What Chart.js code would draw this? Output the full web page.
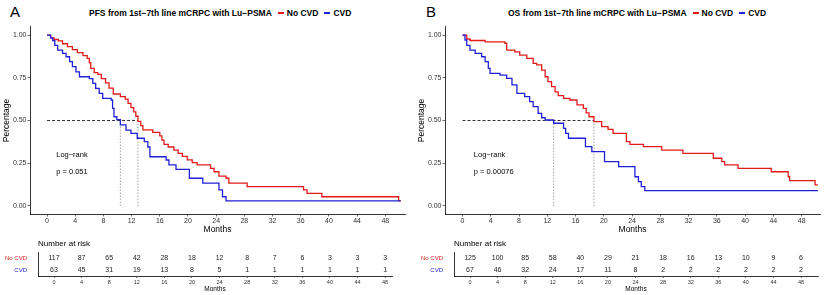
<!DOCTYPE html>
<html>
<head>
<meta charset="utf-8">
<script src="https://cdn.jsdelivr.net/npm/chart.js"></script>
<style>
  html, body { margin: 0; padding: 0; background: #fff; }
  body { width: 825px; height: 295px; position: relative; overflow: hidden;
         font-family: "Liberation Sans", Arial, sans-serif; color: #000; }
  canvas { position: absolute; }
  .tag { position: absolute; top: 3px; font-size: 15px; line-height: 17px; }
  .head { position: absolute; top: 8px; font-size: 8.5px; line-height: 10px; font-weight: bold;
          white-space: nowrap; display: flex; align-items: center; }
  .key { display: inline-block; width: 6px; height: 1.4px; margin: 0 3px 0 6px; }
  .risk-title { position: absolute; top: 239px; font-size: 8px; line-height: 10px; }
</style>
</head>
<body>

<div class="tag" style="left:10px">A</div>
<div class="head" style="left:89px">PFS from 1st−7th line mCRPC with Lu−PSMA<span class="key" style="background:#e31a1c"></span>No CVD<span class="key" style="background:#2020d8"></span>CVD</div>
<div class="tag" style="left:426px">B</div>
<div class="head" style="left:508px">OS from 1st−7th line mCRPC with Lu−PSMA<span class="key" style="background:#e31a1c"></span>No CVD<span class="key" style="background:#2020d8"></span>CVD</div>

<canvas id="kmA" width="410" height="237" style="left:0;top:0"></canvas>
<canvas id="riskA" width="410" height="59" style="left:0;top:236px"></canvas>
<canvas id="kmB" width="410" height="237" style="left:415px;top:0"></canvas>
<canvas id="riskB" width="410" height="59" style="left:415px;top:236px"></canvas>

<div class="risk-title" style="left:38px">Number at risk</div>
<div class="risk-title" style="left:454px">Number at risk</div>

<script>
// ---- data ----
const RED = '#e31a1c';
const BLUE = '#2020d8';

// panel A: PFS
const pfsNoCvdMonths = [0, 0.5, 1.0, 1.6, 2.2, 2.9, 3.6, 4.3, 5.1, 5.7, 6.0, 6.2, 6.7, 7.2, 7.7, 8.3, 8.8, 9.4, 10.4, 11.1, 11.5, 11.9, 12.3, 12.6, 12.9, 13.3, 13.6, 15.0, 16.0, 16.3, 16.6, 17.2, 18.0, 18.6, 19.2, 19.9, 20.6, 21.3, 23.2, 23.7, 24.4, 25.4, 25.8, 28.4, 36.4, 36.9, 39.0, 49.9, 50.2];
const pfsNoCvdSurv = [1, 0.983, 0.974, 0.966, 0.949, 0.932, 0.915, 0.897, 0.88, 0.863, 0.838, 0.805, 0.78, 0.77, 0.745, 0.72, 0.69, 0.655, 0.64, 0.625, 0.60, 0.575, 0.55, 0.525, 0.495, 0.47, 0.445, 0.43, 0.41, 0.385, 0.36, 0.345, 0.327, 0.308, 0.29, 0.27, 0.253, 0.24, 0.22, 0.20, 0.175, 0.162, 0.133, 0.113, 0.094, 0.074, 0.054, 0.03, 0.03];
const pfsCvdMonths = [0, 0.5, 0.8, 1.1, 1.5, 2.2, 2.7, 3.2, 3.6, 4.1, 4.6, 6.0, 6.5, 6.9, 7.4, 7.9, 9.1, 9.3, 9.5, 9.9, 10.4, 11.2, 11.9, 12.8, 13.8, 14.3, 14.6, 16.9, 17.3, 18.3, 20.2, 22.1, 24.4, 24.9, 25.4, 50.2];
const pfsCvdSurv = [1, 0.984, 0.968, 0.94, 0.912, 0.893, 0.873, 0.844, 0.815, 0.785, 0.756, 0.745, 0.717, 0.688, 0.659, 0.63, 0.62, 0.571, 0.522, 0.505, 0.474, 0.444, 0.425, 0.396, 0.376, 0.345, 0.288, 0.269, 0.24, 0.214, 0.162, 0.133, 0.094, 0.054, 0.03, 0.03];
const pfsMedians = [12.9, 10.4];   // No CVD, CVD
const pfsP = 'p = 0.051';

// panel B: OS
const osNoCvdMonths = [0, 0.6, 1.06, 3.2, 6.0, 6.25, 7.4, 8.1, 9.1, 10.0, 10.5, 11.2, 11.7, 12.1, 12.6, 13.1, 13.55, 14.3, 15.2, 16.2, 17.1, 17.5, 17.9, 18.6, 19.7, 20.6, 21.3, 23.2, 23.7, 25.6, 28.2, 31.2, 35.5, 36.7, 37.1, 39.0, 43.7, 46.1, 46.3, 49.9, 50.3];
const osNoCvdSurv = [1, 0.977, 0.968, 0.96, 0.952, 0.912, 0.902, 0.883, 0.864, 0.834, 0.825, 0.795, 0.756, 0.727, 0.698, 0.668, 0.645, 0.63, 0.62, 0.591, 0.571, 0.545, 0.522, 0.493, 0.464, 0.448, 0.425, 0.376, 0.36, 0.347, 0.327, 0.308, 0.279, 0.259, 0.24, 0.22, 0.20, 0.171, 0.148, 0.123, 0.123];
const osCvdMonths = [0, 0.35, 0.6, 1.06, 1.8, 2.7, 3.2, 3.65, 3.9, 5.3, 6.25, 7.0, 7.7, 8.8, 9.5, 10.0, 10.7, 11.2, 11.7, 12.9, 14.3, 14.6, 15.0, 17.4, 18.3, 20.1, 22.1, 24.4, 24.9, 25.3, 25.8, 50.3];
const osCvdSurv = [1, 0.971, 0.94, 0.912, 0.893, 0.873, 0.844, 0.805, 0.776, 0.766, 0.747, 0.708, 0.659, 0.64, 0.61, 0.581, 0.542, 0.516, 0.503, 0.484, 0.454, 0.425, 0.396, 0.347, 0.318, 0.259, 0.23, 0.171, 0.142, 0.113, 0.09, 0.09];
const osMedians = [18.6, 12.9];
const osP = 'p = 0.00076';

// axes + risk tables
const monthTicks = [0, 4, 8, 12, 16, 20, 24, 28, 32, 36, 40, 44, 48];
const survTicks = [0, 0.25, 0.5, 0.75, 1];
const groups = ['No CVD', 'CVD'];
const pfsRiskNoCvd = [117, 87, 65, 42, 28, 18, 12, 8, 7, 6, 3, 3, 3];
const pfsRiskCvd = [63, 45, 31, 19, 13, 8, 5, 1, 1, 1, 1, 1, 1];
const osRiskNoCvd = [125, 100, 85, 58, 40, 29, 21, 18, 16, 13, 10, 9, 6];
const osRiskCvd = [67, 46, 32, 24, 17, 11, 8, 2, 2, 2, 2, 2, 2];

const FONT = '"Liberation Sans", Arial, sans-serif';
Chart.defaults.font.family = FONT;

const xy = (xs, ys) => xs.map((x, i) => ({ x: x, y: ys[i] }));

// log-rank note inside the plot
const notePlugin = {
  id: 'note',
  afterDatasetsDraw(chart, args, opts) {
    const { ctx, scales } = chart;
    ctx.save();
    ctx.fillStyle = '#000';
    ctx.font = '7.5px ' + FONT;
    ctx.textBaseline = 'middle';
    ctx.textAlign = 'left';
    const x = scales.x.getPixelForValue(opts.at);
    ctx.fillText('Log−rank', x, scales.y.getPixelForValue(0.3));
    ctx.fillText(opts.p, x, scales.y.getPixelForValue(0.2));
    ctx.restore();
  }
};

function kmChart(id, noM, noS, cvM, cvS, med, p, noteAt, xmin, xmax) {
  return new Chart(document.getElementById(id), {
    type: 'scatter',
    data: {
      datasets: [
        { label: 'No CVD', data: xy(noM, noS), borderColor: RED, borderWidth: 1.3, stepped: true, order: 1 },
        { label: 'CVD', data: xy(cvM, cvS), borderColor: BLUE, borderWidth: 1.3, stepped: true, order: 0 },
        { label: 'median', data: [{ x: 0, y: 0.5 }, { x: Math.max(...med), y: 0.5 }],
          borderColor: '#000', borderWidth: 0.8, borderDash: [3, 2], order: 3 },
        { label: 'median No CVD', data: [{ x: med[0], y: 0.5 }, { x: med[0], y: 0 }],
          borderColor: '#999', borderWidth: 0.9, borderDash: [1.5, 1.5], order: 4 },
        { label: 'median CVD', data: [{ x: med[1], y: 0.5 }, { x: med[1], y: 0 }],
          borderColor: '#999', borderWidth: 0.9, borderDash: [1.5, 1.5], order: 4 }
      ]
    },
    options: {
      responsive: false,
      animation: false,
      showLine: true,
      elements: { point: { radius: 0, hoverRadius: 0 }, line: { fill: false } },
      layout: { padding: { top: 26.5, right: 5, left: 0, bottom: 0 } },
      plugins: { legend: { display: false }, tooltip: { enabled: false }, note: { p: p, at: noteAt } },
      scales: {
        x: {
          type: 'linear', min: xmin, max: xmax,
          afterBuildTicks: s => { s.ticks = monthTicks.map(v => ({ value: v })); },
          afterFit: s => { s.height = 22.5; },
          grid: { display: true, drawOnChartArea: false, tickLength: 2, color: '#444', lineWidth: 0.8 },
          border: { display: true, color: '#000', width: 0.8 },
          ticks: { font: { size: 7 }, color: '#333', padding: 0.5, maxRotation: 0, autoSkip: false },
          title: { display: true, text: 'Months', font: { size: 8.5 }, color: '#000', padding: { top: 0, bottom: 2.5 } }
        },
        y: {
          min: -0.05, max: 1.05,
          afterBuildTicks: s => { s.ticks = survTicks.map(v => ({ value: v })); },
          afterFit: s => { s.width = 30; },
          grid: { display: true, drawOnChartArea: false, tickLength: 2.5, color: '#444', lineWidth: 0.8 },
          border: { display: true, color: '#000', width: 0.8 },
          ticks: { font: { size: 7 }, color: '#333', padding: 1, callback: v => v.toFixed(2) },
          title: { display: true, text: 'Percentage', font: { size: 8.5 }, color: '#000', padding: { top: 2, bottom: 0 } }
        }
      }
    },
    plugins: [notePlugin]
  });
}

// numbers at risk written at the table scale positions
const riskPlugin = {
  id: 'riskNumbers',
  afterDraw(chart, args, opts) {
    const { ctx, scales } = chart;
    ctx.save();
    ctx.fillStyle = '#222';
    ctx.font = '7px ' + FONT;
    ctx.textAlign = 'center';
    ctx.textBaseline = 'middle';
    opts.rows.forEach((row, r) => {
      const y = scales.y.getPixelForValue(r);
      row.forEach((n, i) => ctx.fillText(String(n), scales.x.getPixelForValue(monthTicks[i]), y));
    });
    ctx.restore();
  }
};

function riskChart(id, rows, yWidth, padRight, xmin, xmax) {
  return new Chart(document.getElementById(id), {
    type: 'scatter',
    data: { datasets: [] },
    options: {
      responsive: false,
      animation: false,
      layout: { padding: { top: 16, right: padRight, left: 0, bottom: 0 } },
      plugins: { legend: { display: false }, tooltip: { enabled: false }, riskNumbers: { rows: rows } },
      scales: {
        x: {
          type: 'linear', min: xmin, max: xmax,
          afterBuildTicks: s => { s.ticks = monthTicks.map(v => ({ value: v })); },
          afterFit: s => { s.height = 19; },
          grid: { display: true, drawOnChartArea: false, tickLength: 2, color: '#444', lineWidth: 0.7 },
          border: { display: true, color: '#000', width: 0.8 },
          ticks: { font: { size: 5.5 }, color: '#333', padding: 1, maxRotation: 0, autoSkip: false },
          title: { display: true, text: 'Months', font: { size: 6.5 }, color: '#000', padding: { top: 0, bottom: 2 } }
        },
        y: {
          type: 'category', labels: groups, offset: true,
          afterFit: s => { s.width = yWidth; },
          grid: { display: false },
          border: { display: true, color: '#000', width: 0.8 },
          ticks: { font: { size: 6 }, color: c => (c.index === 0 ? RED : BLUE), padding: 3 }
        }
      }
    },
    plugins: [riskPlugin]
  });
}

kmChart('kmA', pfsNoCvdMonths, pfsNoCvdSurv, pfsCvdMonths, pfsCvdSurv, pfsMedians, pfsP, 1.3, -2.42, 50.8);
kmChart('kmB', osNoCvdMonths, osNoCvdSurv, osCvdMonths, osCvdSurv, osMedians, osP, 1.6, -2.48, 50.6);
riskChart('riskA', [pfsRiskNoCvd, pfsRiskCvd], 38, 18, -2.32, 49.0);
riskChart('riskB', [osRiskNoCvd, osRiskCvd], 39, 7, -2.32, 50.46);
</script>
</body>
</html>
